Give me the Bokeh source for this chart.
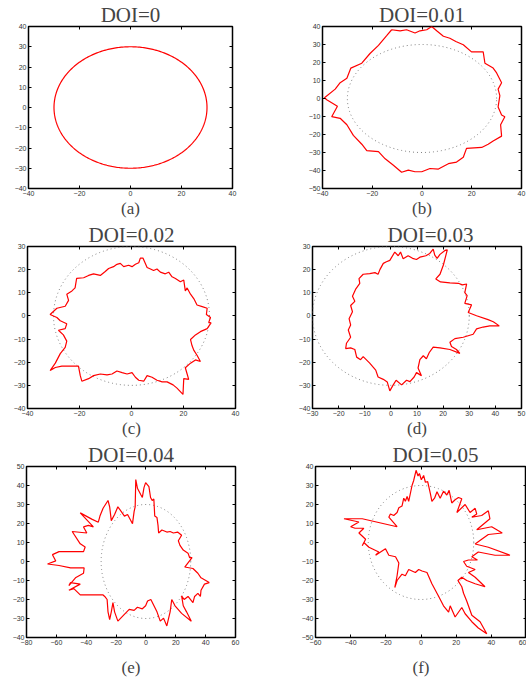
import numpy as np
from bokeh.plotting import figure
from bokeh.layouts import column, row
from bokeh.models import LinearAxis, FixedTicker, Range1d
from bokeh.embed import file_html
from bokeh.resources import INLINE

titles = ["DOI=0", "DOI=0.01", "DOI=0.02", "DOI=0.03", "DOI=0.04", "DOI=0.05"]
panel_labels = ["(a)", "(b)", "(c)", "(d)", "(e)", "(f)"]

ideal_radius = 30   # the regular (DOI=0) pattern and the dotted reference circle
angles_deg = np.arange(0, 361)

b_x = [-12.2,-8.8,-6.2,-2.8,-0.8,1.9,3.9,5.9,8.6,11.2,13.6,16.6,19.9,24.6,25.3,28.6,30.0,32.0,30.6,31.3,30.6,32.0,33.3,31.6,32.0,28.6,26.6,24.0,17.9,16.6,13.9,10.6,6.6,3.2,-0.1,-2.8,-5.5,-8.2,-11.5,-14.8,-17.5,-22.2,-24.2,-27.6,-30.2,-32.9,-36.3,-34.0,-38.3,-39.2,-34.9,-32.9,-30.2,-28.6,-24.2,-20.9,-17.5,-14.2,-12.2]
b_y = [38.2,37.6,38.2,36.4,37.6,38.2,40.0,37.6,34.6,33.5,31.7,29.9,25.9,25.9,19.6,16.9,14.2,8.8,5.2,1.6,-4.7,-9.2,-10.1,-14.6,-20.9,-23.6,-25.4,-27.2,-27.7,-32.6,-35.3,-36.2,-39.2,-38.9,-40.7,-40.7,-39.8,-41.0,-37.1,-33.5,-29.5,-29.0,-25.4,-20.5,-14.6,-11.0,-10.1,-4.3,-0.7,0.4,5.2,8.8,11.2,16.9,19.6,25.0,29.5,34.9,38.2]

c_x = [-5.6,-4.3,-3.0,-1.1,0.2,1.5,2.8,3.4,4.4,6.0,7.3,8.5,9.8,11.1,13.0,14.3,15.6,16.9,18.8,20.1,20.7,21.4,22.7,24.0,25.2,27.2,29.1,28.8,30.4,29.7,30.6,29.1,26.5,24.6,22.7,23.3,24.0,25.2,26.5,24.6,22.7,20.7,21.4,22.0,20.1,19.8,17.5,16.0,13.7,11.8,9.8,7.9,6.0,4.7,2.8,1.5,0.2,-1.7,-3.6,-5.6,-7.5,-9.4,-12.0,-14.6,-16.5,-19.1,-19.7,-20.4,-22.9,-24.9,-26.8,-29.3,-31.3,-29.3,-27.4,-25.5,-24.9,-26.2,-28.1,-25.5,-24.9,-27.4,-28.7,-31.3,-28.7,-25.5,-24.2,-24.9,-22.9,-21.7,-21.1,-18.4,-16.5,-14.6,-12.0,-10.1,-8.8,-6.9,-5.6]
c_y = [22.3,22.7,21.3,21.9,21.3,22.3,23.0,25.0,25.0,20.9,20.3,19.6,20.3,18.9,18.2,18.9,16.9,16.2,14.8,15.5,10.8,12.1,9.4,7.4,4.7,4.0,3.3,0.6,-0.7,-2.8,-3.0,-5.5,-6.8,-8.2,-10.2,-12.9,-14.9,-17.0,-19.7,-19.0,-20.4,-22.4,-25.1,-27.4,-27.1,-33.9,-31.2,-29.8,-28.5,-28.5,-27.8,-26.5,-25.8,-28.2,-27.8,-26.5,-24.5,-25.1,-24.5,-23.8,-25.1,-25.5,-25.1,-25.8,-27.1,-28.2,-25.8,-21.7,-21.7,-21.7,-21.7,-22.3,-23.6,-20.4,-16.3,-13.6,-10.9,-8.2,-6.2,-5.5,-3.4,-2.1,-0.7,0.6,3.3,4.2,6.7,9.4,10.8,12.1,16.2,16.5,17.5,18.2,17.5,19.2,20.5,21.3,22.3]

d_x = [-1.7,-0.4,1.5,2.8,3.7,4.7,6.6,8.3,9.8,11.1,13.4,14.9,16.2,16.8,17.7,18.8,20.7,21.6,20.1,18.8,17.2,19.0,22.6,25.8,27.4,29.0,28.3,29.2,28.3,30.9,29.6,32.8,37.2,39.2,41.5,37.9,35.3,32.8,31.5,27.7,24.5,22.6,23.2,25.1,26.4,22.6,18.8,16.2,14.7,13.6,12.4,11.1,10.4,11.7,9.8,8.9,7.3,6.0,4.1,2.0,0.9,-0.4,-1.4,-2.9,-4.9,-5.8,-8.1,-10.6,-11.6,-13.1,-13.8,-15.4,-17.3,-17.0,-15.4,-16.3,-15.4,-16.0,-14.7,-15.4,-13.8,-14.7,-13.4,-11.9,-12.2,-10.6,-8.1,-6.1,-4.9,-4.2,-2.9,-1.7]
d_y = [23.4,24.0,27.6,26.0,27.6,24.7,26.0,24.9,24.4,25.4,26.0,27.0,28.9,26.3,24.9,26.6,28.3,28.6,22.0,18.0,16.0,14.7,14.3,14.1,13.4,13.8,10.1,8.8,5.4,4.8,1.5,0.1,-1.6,-2.5,-4.3,-4.3,-4.8,-5.6,-7.9,-9.2,-9.8,-11.4,-13.2,-14.5,-16.2,-14.5,-13.8,-13.5,-15.8,-18.5,-17.2,-18.9,-22.5,-25.8,-24.5,-26.4,-28.4,-27.8,-29.8,-27.8,-29.8,-32.4,-28.5,-27.4,-26.4,-23.4,-20.4,-17.6,-18.9,-17.8,-14.5,-13.8,-14.1,-11.8,-9.2,-6.1,-3.9,-1.2,1.8,4.5,6.3,8.5,11.7,14.1,16.1,18.0,18.3,18.7,18.0,20.0,22.7,23.4]

e_x = [-6.8,-5.7,-3.5,-2.4,-1.3,-0.2,2.0,3.1,4.2,5.3,5.9,7.4,8.1,8.5,10.7,14.0,16.2,18.4,21.2,23.9,21.7,22.8,25.0,28.2,29.3,30.9,26.0,31.5,34.8,36.9,42.4,39.2,36.9,36.5,34.8,32.6,31.5,28.2,25.6,23.9,25.0,27.2,30.4,23.9,19.5,17.3,16.2,14.0,11.8,9.6,7.4,3.3,1.1,-0.2,-2.4,-5.7,-7.9,-11.2,-13.3,-18.8,-21.0,-22.1,-23.2,-24.3,-25.4,-26.0,-27.6,-28.7,-44.0,-48.3,-51.6,-44.0,-50.5,-51.6,-47.2,-41.8,-41.4,-50.5,-58.2,-65.9,-60.4,-62.6,-58.2,-41.8,-40.7,-44.0,-49.4,-39.6,-41.8,-38.5,-35.2,-44.0,-36.3,-31.9,-30.8,-28.7,-25.4,-24.3,-23.2,-21.0,-18.8,-16.6,-14.4,-12.3,-9.0,-7.9,-7.2,-6.8]
e_y = [43.1,38.6,35.3,33.7,38.9,41.5,39.4,33.7,32.1,32.9,23.9,23.1,19.0,15.0,16.6,15.5,15.8,15.0,15.5,13.8,10.9,8.5,6.0,4.4,2.0,2.0,-2.9,-3.7,-6.2,-8.6,-11.1,-11.9,-15.1,-18.4,-16.8,-18.4,-21.6,-18.4,-20.0,-18.1,-23.3,-26.5,-31.4,-27.3,-23.3,-20.0,-26.5,-33.9,-29.8,-31.4,-26.5,-20.0,-20.8,-23.3,-24.9,-24.1,-25.7,-25.2,-26.9,-31.4,-26.5,-21.6,-26.5,-30.6,-26.5,-20.0,-18.4,-17.6,-17.6,-14.3,-15.1,-11.9,-11.1,-12.7,-8.6,-6.2,-3.4,-3.4,-2.1,-1.3,0.3,3.6,5.2,5.2,7.6,9.3,15.8,15.0,18.2,19.0,18.2,25.6,22.3,20.7,23.9,28.0,32.1,28.8,21.5,24.7,28.8,26.4,23.9,24.7,19.9,26.4,28.8,43.1]

f_x = [-2.8,-1.7,-0.9,0.2,1.5,2.5,3.8,5.3,6.2,7.7,9.1,10.9,12.8,14.7,16.0,17.5,19.4,21.3,23.2,20.4,25.1,27.9,30.8,31.7,28.9,34.5,38.3,39.2,31.7,40.2,46.2,38.3,34.5,30.8,38.3,50.6,42.1,32.6,28.9,32.1,27.0,24.2,26.0,30.8,27.0,30.8,36.4,30.8,26.0,23.2,21.0,23.2,24.2,26.0,28.9,33.6,37.4,32.6,28.9,25.1,23.2,21.3,19.4,16.6,15.7,12.8,10.0,6.2,3.4,0.6,-1.3,-3.2,-5.1,-7.0,-8.9,-10.8,-13.6,-14.9,-13.6,-12.6,-14.5,-18.3,-20.2,-25.8,-24.0,-29.6,-32.5,-33.4,-31.5,-35.3,-32.5,-37.5,-40.0,-35.3,-43.8,-33.4,-13.6,-18.3,-17.4,-15.5,-13.6,-12.6,-10.8,-9.8,-8.9,-7.9,-7.0,-5.1,-4.2,-2.8]
f_y = [38.0,35.0,36.3,33.0,35.3,31.7,32.0,25.8,21.7,23.3,26.7,23.3,27.0,25.0,27.5,20.8,22.5,23.7,23.0,15.8,20.0,15.8,18.0,15.0,13.3,14.2,16.7,12.5,6.7,8.3,5.0,4.2,1.7,-0.8,-2.5,-6.7,-6.7,-5.0,-7.5,-9.2,-9.2,-10.0,-12.5,-14.2,-15.8,-18.3,-23.3,-21.7,-20.0,-18.3,-20.0,-23.3,-26.7,-30.8,-38.3,-41.7,-48.0,-45.0,-41.7,-37.5,-34.2,-36.7,-39.2,-33.3,-36.7,-33.3,-28.3,-21.7,-15.8,-15.0,-14.2,-15.8,-15.0,-14.2,-17.5,-16.7,-20.0,-23.7,-17.5,-10.8,-7.5,-6.7,-3.3,-6.7,-5.0,-2.5,0.0,-1.7,1.7,5.0,7.5,7.5,8.3,10.8,12.5,12.5,8.3,13.3,15.0,14.2,15.8,18.3,19.2,23.3,21.7,24.2,21.7,30.0,32.5,38.0]

x_ticks = {
    "a": [-40, -20, 0, 20, 40], "b": [-40, -20, 0, 20, 40], "c": [-40, -20, 0, 20, 40],
    "d": [-30, -20, -10, 0, 10, 20, 30, 40, 50], "e": [-80, -60, -40, -20, 0, 20, 40, 60],
    "f": [-60, -40, -20, 0, 20, 40, 60],
}
y_ticks = {
    "a": [-40, -30, -20, -10, 0, 10, 20, 30, 40],
    "b": [-50, -40, -30, -20, -10, 0, 10, 20, 30, 40],
    "c": [-40, -30, -20, -10, 0, 10, 20, 30],
    "d": [-40, -30, -20, -10, 0, 10, 20, 30],
    "e": [-40, -30, -20, -10, 0, 10, 20, 30, 40, 50],
    "f": [-50, -40, -30, -20, -10, 0, 10, 20, 30, 40],
}

for xs, ys in [(b_x, b_y), (c_x, c_y), (d_x, d_y), (e_x, e_y), (f_x, f_y)]:
    assert len(xs) == len(ys)

TICK_FONT = "Liberation Sans"
SERIF = "Liberation Serif"


def style_axis(ax, show_labels=True):
    ax.major_tick_in = 3
    ax.major_tick_out = 0
    ax.minor_tick_line_color = None
    ax.axis_line_color = None
    ax.major_tick_line_color = "black"
    ax.major_tick_line_width = 1
    if show_labels:
        ax.major_label_text_font = TICK_FONT
        ax.major_label_text_font_size = "7px"
        ax.major_label_text_color = "#333333"
        ax.major_label_standoff = 2
    else:
        ax.major_label_text_font_size = "1px"
        ax.major_label_text_color = None
        ax.major_label_standoff = 0


def make_panel(key, title, label, xs, ys, w, h, bl, br, bt, bb,
               title_align="center", title_off=0, label_standoff=0, show_ref=True):
    xt, yt = x_ticks[key], y_ticks[key]
    p = figure(width=w, height=h, output_backend="svg", toolbar_location=None,
               x_range=Range1d(xt[0], xt[-1]), y_range=Range1d(yt[0], yt[-1]),
               min_border_left=bl, min_border_right=br, min_border_top=bt, min_border_bottom=bb)
    p.grid.visible = False
    p.background_fill_color = "white"
    p.border_fill_color = "white"
    p.outline_line_color = "black"
    p.outline_line_width = 1.5
    p.title.text = title
    p.title.text_font = SERIF
    p.title.text_font_size = "21px"
    p.title.text_font_style = "normal"
    p.title.align = title_align
    p.title.standoff = 0
    p.title.offset = title_off
    p.xaxis.ticker = FixedTicker(ticks=xt)
    p.yaxis.ticker = FixedTicker(ticks=yt)
    style_axis(p.xaxis[0])
    style_axis(p.yaxis[0])
    p.xaxis.axis_label = label
    p.xaxis.axis_label_text_font = SERIF
    p.xaxis.axis_label_text_font_size = "17px"
    p.xaxis.axis_label_text_font_style = "normal"
    p.xaxis.axis_label_standoff = label_standoff
    ra = LinearAxis(ticker=FixedTicker(ticks=yt))
    style_axis(ra, show_labels=False)
    p.add_layout(ra, "right")
    ta = LinearAxis(ticker=FixedTicker(ticks=xt))
    style_axis(ta, show_labels=False)
    p.add_layout(ta, "above")
    th = np.deg2rad(angles_deg)
    if show_ref:
        p.line(ideal_radius * np.cos(th), ideal_radius * np.sin(th),
               line_color="#808080", line_dash="1 3", line_width=1)
    p.line(xs, ys, line_color="#ff0000", line_width=1.2)
    return p


th0 = np.deg2rad(angles_deg)
a_x = list(ideal_radius * np.cos(th0))
a_y = list(ideal_radius * np.sin(th0))

pa = make_panel("a", titles[0], panel_labels[0], a_x, a_y, 263, 220, 28, 31, 24, 28, show_ref=False)
pb = make_panel("b", titles[1], panel_labels[1], b_x, b_y, 263, 220, 59, 5, 23, 28)
pc = make_panel("c", titles[2], panel_labels[2], c_x, c_y, 263, 220, 27, 28, 19, 28)
pd = make_panel("d", titles[3], panel_labels[3], d_x, d_y, 263, 220, 49, 5, 17, 28,
                title_align="left", title_off=75)
pe = make_panel("e", titles[4], panel_labels[4], e_x, e_y, 263, 241, 26, 28, 17, 40, label_standoff=10)
pf = make_panel("f", titles[5], panel_labels[5], f_x, f_y, 263, 241, 52, 0, 17, 44,
                title_align="left", title_off=77, label_standoff=10)

layout = column(row(pa, pb, spacing=0), row(pc, pd, spacing=0), row(pe, pf, spacing=0), spacing=0)

open("out.html", "w").write(file_html(layout, INLINE))
